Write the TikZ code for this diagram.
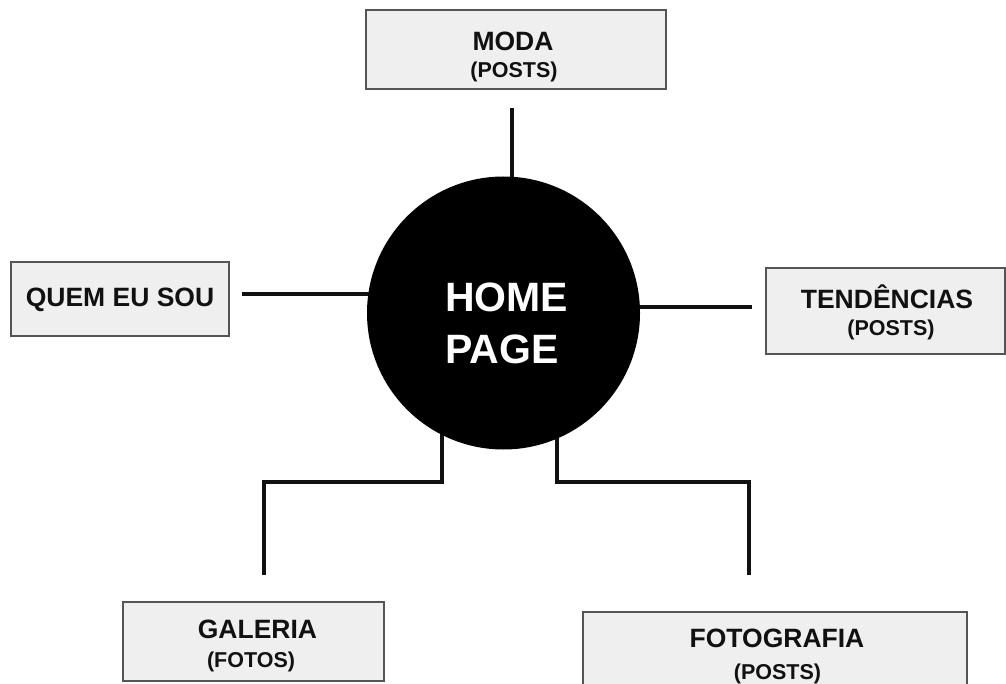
\documentclass[tikz,border=0pt]{standalone}
\usepackage{fontspec}
\setmainfont{Liberation Sans}
\definecolor{boxfill}{HTML}{EFEFEF}
\definecolor{boxline}{HTML}{555555}
\definecolor{ink}{HTML}{111111}
\begin{document}
\begin{tikzpicture}[x=1pt,y=-1pt,
  pagebox/.style={draw=boxline,line width=1.6pt,fill=boxfill,rectangle,inner sep=0pt},
  title/.style={font=\fontsize{26.5}{30}\selectfont\bfseries,text=ink,inner sep=0pt,anchor=base},
  sub/.style={font=\fontsize{21.5}{25}\selectfont\bfseries,text=ink,inner sep=0pt,anchor=base},
  hometxt/.style={font=\fontsize{41}{48}\selectfont\bfseries,text=white,inner sep=0pt,anchor=base west},
  link/.style={draw=ink,line width=4pt,line join=miter}]
\clip (0,0) rectangle (1006,684);
\fill[white] (0,0) rectangle (1006,684);
% boxes
\node[pagebox,minimum width=300pt,minimum height=79pt] (moda) at (516,49.5) {};
\node[pagebox,minimum width=218pt,minimum height=74pt] (quem) at (120,299) {};
\node[pagebox,minimum width=239pt,minimum height=86pt] (tend) at (885.5,311) {};
\node[pagebox,minimum width=261pt,minimum height=79pt] (gal) at (253.5,641.5) {};
\node[pagebox,minimum width=384pt,minimum height=100pt] (foto) at (775,662) {};
% free ends
\coordinate (cModa) at (512,108);
\coordinate (cQuem) at (242,294);
\coordinate (cTend) at (752,307);
\coordinate (cGalA) at (442,482);
\coordinate (cGalB) at (264,482);
\coordinate (cGal) at (264,575);
\coordinate (cFotA) at (557,482);
\coordinate (cFotB) at (749,482);
\coordinate (cFot) at (749,575);
\coordinate (hc) at (503.5,313);
% connectors (drawn under the circle)
\draw[link] (cModa) -- (cModa |- hc);
\draw[link] (cQuem) -- (cQuem -| hc);
\draw[link] (cTend) -- (cTend -| hc);
\draw[link] (cGalA |- hc) -- (cGalA) -- (cGalB) -- (cGal);
\draw[link] (cFotA |- hc) -- (cFotA) -- (cFotB) -- (cFot);
% circle
\node[circle,fill=black,minimum size=273pt,inner sep=0pt] (home) at (hc) {};
% texts
\node[title] (tModa) at (513,51) {MODA};
\node[sub] (sModa) at (514,78) {(POSTS)};
\node[title] (tQuem) at (120,307) {QUEM EU SOU};
\node[title] (tTend) at (887,309) {TENDÊNCIAS};
\node[sub] (sTend) at (891,336) {(POSTS)};
\node[title] (tGal) at (257.5,638) {GALERIA};
\node[sub] (sGal) at (251,667) {(FOTOS)};
\node[title] (tFoto) at (777,647) {FOTOGRAFIA};
\node[sub] (sFoto) at (777.5,679) {(POSTS)};
\node[hometxt] (tHome) at (445,312) {HOME};
\node[hometxt] (tPage) at (445,363) {PAGE};
\end{tikzpicture}
\end{document}
